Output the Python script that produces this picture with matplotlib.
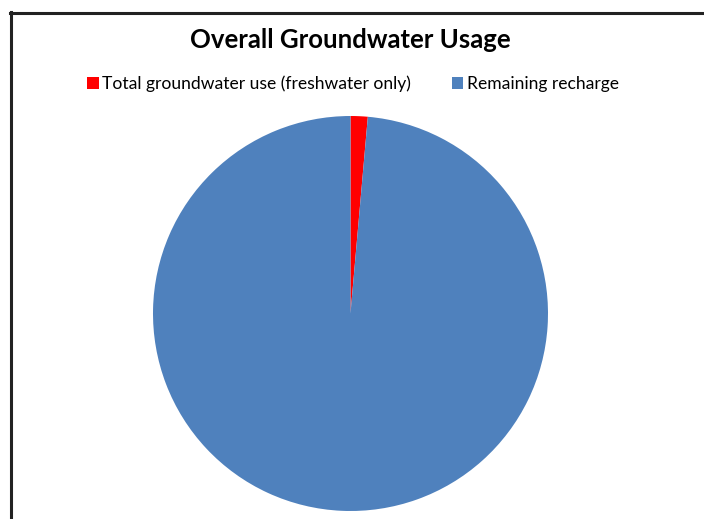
import matplotlib.pyplot as plt
from matplotlib.lines import Line2D
from matplotlib.patches import Patch

plt.rcParams['font.family'] = ['Lato', 'DejaVu Sans']

labels = ['Total groundwater use (freshwater only)', 'Remaining recharge']
values = [1.4, 98.6]
colors = ['#FF0000', '#4F81BD']

W, H = 704, 519
fig = plt.figure(figsize=(W / 100, H / 100), dpi=100)

# pie axes: centre (350.5, 313.5) px, radius 197.5 px
cx, cy, r = 350.5, 313.5, 197.5
ax = fig.add_axes([(cx - r) / W, (H - cy - r) / H, 2 * r / W, 2 * r / H])
ax.pie(values, colors=colors, startangle=90, counterclock=False,
       radius=1.0, wedgeprops=dict(linewidth=0))
ax.set_xlim(-1, 1)
ax.set_ylim(-1, 1)
ax.set_aspect('equal')
ax.axis('off')

# chart frame (top and left edges)
fig.add_artist(Line2D([10.5 / W, 10.5 / W], [0, 1 - 12 / H], color='#222222',
                      linewidth=2.2, transform=fig.transFigure))
fig.add_artist(Line2D([9.5 / W, 1], [1 - 13 / H, 1 - 13 / H], color='#222222',
                      linewidth=2.2, transform=fig.transFigure))

fig.text(350 / W, 1 - 40 / H, 'Overall Groundwater Usage', ha='center', va='center',
         fontsize=18.5, fontweight='bold')

handles = [Patch(facecolor=c, edgecolor='none') for c in colors]
fig.legend(handles, labels, loc='center', bbox_to_anchor=(353 / W, 1 - 83.5 / H),
           ncol=2, frameon=False, fontsize=12.6, handlelength=0.68, handleheight=0.68,
           handletextpad=0.2, columnspacing=2.3)

fig.savefig('out.png', dpi=100)
